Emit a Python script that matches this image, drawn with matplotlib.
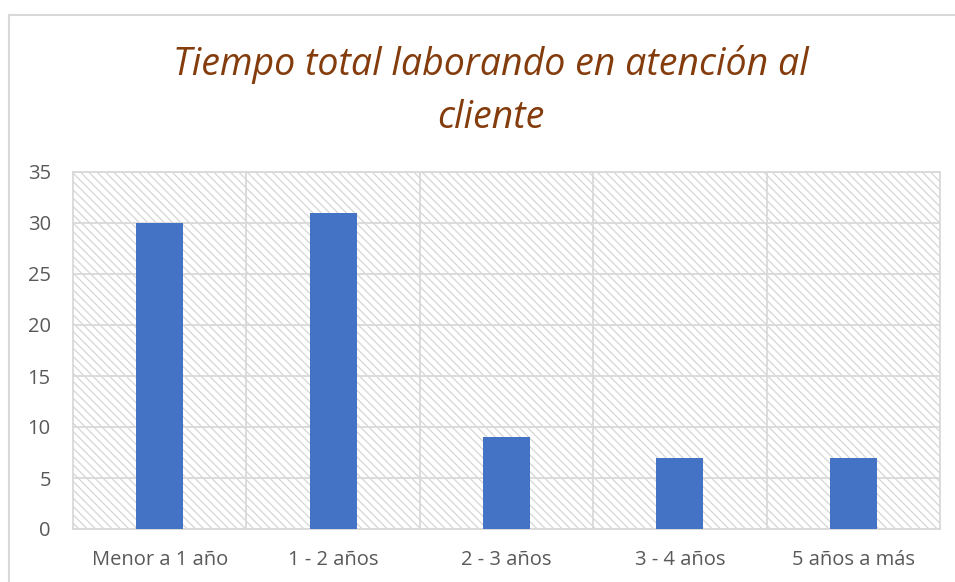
import numpy as np
import matplotlib.pyplot as plt
from matplotlib.lines import Line2D

categorias = ['Menor a 1 año', '1 - 2 años', '2 - 3 años', '3 - 4 años', '5 años a más']
valores = [30, 31, 9, 7, 7]
titulo = 'Tiempo total laborando en atención al\ncliente'

plt.rcParams['font.family'] = ['Open Sans', 'DejaVu Sans']
plt.rcParams['hatch.linewidth'] = 0.9

fig = plt.figure(figsize=(9.55, 5.82), dpi=100)
ax = fig.add_axes([73/955, 1-529/582, 867/955, 357/582])

# fondo con trama diagonal
ax.patch.set_facecolor('white')
ax.patch.set_edgecolor('#d6d6d6')
ax.patch.set_hatch('\\\\\\\\')
ax.patch.set_linewidth(0)

x = np.arange(len(categorias))
ax.bar(x, valores, width=0.27, color='#4472C4', zorder=3)

ax.set_xlim(-0.5, len(categorias) - 0.5)
ax.set_ylim(0, 35)
ax.set_yticks(range(0, 36, 5))
ax.set_xticks(x)
ax.set_xticklabels(categorias)
ax.set_xticks(np.arange(0.5, len(categorias) - 1, 1), minor=True)
ax.grid(axis='y', which='major', color='#d9d9d9', linewidth=1.3, zorder=1)
ax.grid(axis='x', which='minor', color='#d9d9d9', linewidth=1.3, zorder=1)
ax.set_axisbelow(True)
ax.tick_params(axis='both', which='both', length=0, labelsize=14.5, labelcolor='#595959')
ax.tick_params(axis='x', pad=15)
ax.tick_params(axis='y', pad=16)
for s in ax.spines.values():
    s.set_color('#d9d9d9')
    s.set_linewidth(1.3)

fig.text(491/955, 1-91/582, titulo, ha='center', va='center', fontsize=27,
         style='italic', color='#843C0C', linespacing=1.5)

# borde del gráfico
fig.add_artist(Line2D([9/955, 9/955], [0, 1-15/582], color='#d9d9d9', lw=1.5))
fig.add_artist(Line2D([9/955, 1], [1-15/582, 1-15/582], color='#d9d9d9', lw=1.5))

plt.savefig('out.png', dpi=100)
